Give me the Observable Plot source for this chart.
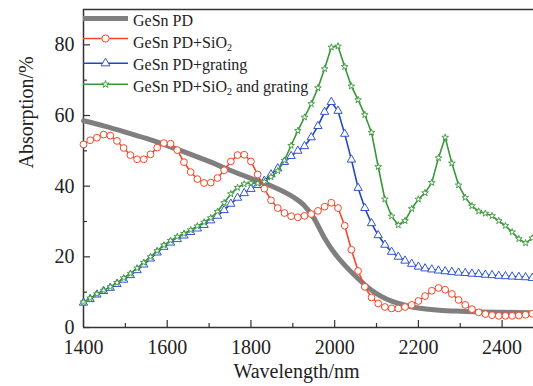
<!DOCTYPE html>
<html>
<head>
<meta charset="utf-8">
<script src="https://cdn.jsdelivr.net/npm/d3@7"></script>
<script src="https://cdn.jsdelivr.net/npm/@observablehq/plot@0.6"></script>
<style>
  html, body { margin: 0; padding: 0; background: #fff; }
  #wrap { position: relative; width: 533px; height: 386px; overflow: hidden; }
  #legend { position: absolute; left: 0; top: 0; pointer-events: none; }
</style>
</head>
<body>
<div id="wrap"><div id="chart"></div><svg id="legend" width="533" height="100"></svg></div>
<script>
// ---- data ----
const wl = [1400,1416,1432,1448,1464,1480,1496,1512,1528,1544,1560,1576,1592,1608,1624,1640,1656,1672,1688,1704,1720,1736,1752,1768,1784,1800,1816,1832,1848,1864,1880,1896,1912,1928,1944,1960,1976,1992,2008,2024,2040,2056,2072,2088,2104,2120,2136,2152,2168,2184,2200,2216,2232,2248,2264,2280,2296,2312,2328,2344,2360,2376,2392,2408,2424,2440,2456,2472];

const sio2 = [51.8,53.0,53.7,54.6,54.3,52.8,50.8,48.8,47.6,47.6,
              49.0,50.9,52.2,52.0,50.2,46.8,44.0,42.0,40.9,41.0,
              42.3,44.5,47.0,48.8,48.9,47.0,43.3,39.3,36.0,33.8,
              32.4,31.5,31.2,31.6,32.1,33.0,34.2,35.3,33.8,28.8,
              22.0,16.0,11.5,8.5,6.8,5.8,5.4,5.4,5.8,6.4,
              7.5,8.9,10.4,11.2,10.7,9.5,7.8,6.4,5.2,4.3,
              3.8,3.5,3.3,3.3,3.3,3.4,3.6,3.9];

const grating = [7.0,8.0,9.3,10.3,11.2,12.3,13.5,14.8,16.2,17.8,
                 19.5,21.2,22.8,24.0,25.0,26.0,27.0,28.0,29.0,30.3,
                 31.6,33.2,35.0,36.7,38.0,39.2,40.3,41.5,43.3,45.0,
                 46.8,48.5,50.0,51.3,53.8,57.0,61.0,63.8,61.3,54.8,
                 47.5,39.5,33.8,29.5,26.1,23.4,21.4,20.0,18.9,18.0,
                 17.2,16.7,16.4,16.1,15.9,15.7,15.5,15.4,15.2,15.1,
                 14.9,14.8,14.6,14.5,14.4,14.3,14.2,14.0];

const both = [7.2,8.3,9.5,10.5,11.5,12.7,14.0,15.3,16.8,18.4,
              20.0,21.7,23.3,24.6,25.7,26.6,27.6,28.7,29.8,31.0,
              32.8,35.3,37.8,39.6,40.6,40.9,40.8,41.2,42.6,44.3,
              47.3,51.5,55.7,59.5,63.3,67.8,73.2,79.3,79.6,73.8,
              68.3,64.4,60.2,55.2,45.5,36.3,31.5,29.0,30.2,33.6,
              36.3,38.1,41.0,48.0,53.8,46.5,40.3,36.8,34.4,32.9,
              32.3,31.6,30.2,28.8,27.0,25.1,23.9,25.3];

const grayWl = [1400,1450,1500,1550,1600,1650,1700,1750,1800,1850,1900,1925,1950,1975,2000,2025,2050,2075,2100,2125,2150,2175,2200,2250,2300,2350,2400,2475];
const gray   = [58.5,57.0,55.3,53.5,51.5,49.3,47.0,44.5,42.2,40.0,37.0,34.8,31.0,25.5,21.0,17.5,14.5,11.8,9.6,8.0,6.9,6.1,5.5,4.9,4.6,4.4,4.3,4.2];

const xMajor = [1400,1600,1800,2000,2200,2400];
const xMinor = [1500,1700,1900,2100,2300];
const yMajor = [0,20,40,60,80];
const yMinor = [10,30,50,70];

const seriesNames = ["GeSn PD", "GeSn PD+SiO", "GeSn PD+grating", "GeSn PD+SiO"];
const colors = { gray: "#7f7f7f", red: "#f2472a", blue: "#1f48bf", green: "#3b963b" };

// ---- build tables ----
const grayRows = grayWl.map((w, i) => ({w, v: gray[i]}));
const redRows = wl.map((w, i) => ({w, v: sio2[i]}));
const blueRows = wl.map((w, i) => ({w, v: grating[i]}));
const greenRows = wl.map((w, i) => ({w, v: both[i]}));

const font = "'Liberation Serif', 'Times New Roman', serif";
const axisColor = "#333";

const chart = Plot.plot({
  width: 533,
  height: 386,
  marginLeft: 83,
  marginRight: 0,
  marginTop: 9,
  marginBottom: 59,
  x: {domain: [1400, 2475], label: null},
  y: {domain: [0, 90], label: null},
  style: {fontFamily: font, fontSize: "20px", color: "#222", background: "#fff", overflow: "visible"},
  marks: [
    // frame lines
    Plot.ruleX([1400], {stroke: axisColor, strokeWidth: 1.5}),
    Plot.ruleY([0], {stroke: axisColor, strokeWidth: 1.5}),
    Plot.ruleY([90], {stroke: axisColor, strokeWidth: 1.5}),
    // inward ticks
    Plot.axisX({ticks: xMajor, tickSize: -7, tickFormat: () => "", stroke: axisColor, strokeWidth: 1.2}),
    Plot.axisX({ticks: xMinor, tickSize: -4, tickFormat: () => "", stroke: axisColor, strokeWidth: 1.2}),
    Plot.axisY({ticks: yMajor, tickSize: -7, tickFormat: () => "", stroke: axisColor, strokeWidth: 1.2}),
    Plot.axisY({ticks: yMinor, tickSize: -4, tickFormat: () => "", stroke: axisColor, strokeWidth: 1.2}),
    // tick labels
    Plot.axisX({ticks: xMajor, tickSize: 0, tickPadding: 12, fontSize: 20, tickFormat: d => String(d)}),
    Plot.axisY({ticks: yMajor, tickSize: 0, tickPadding: 9, fontSize: 20, tickFormat: d => String(d)}),
    // axis titles
    Plot.text(["Wavelength/nm"], {text: d => d, frameAnchor: "bottom", dy: 50, dx: -12, fontSize: 20, fill: "#222"}),
    Plot.text(["Absorption/%"], {text: d => d, frameAnchor: "left", rotate: -90, dx: -57, fontSize: 20, fill: "#222"}),
    // series
    Plot.line(grayRows, {x: "w", y: "v", stroke: colors.gray, strokeWidth: 5, curve: "monotone-x"}),
    Plot.line(blueRows, {x: "w", y: "v", stroke: colors.blue, strokeWidth: 1.6}),
    Plot.dot(blueRows, {x: "w", y: "v", symbol: "triangle", r: 3.1, stroke: "#3355d0", fill: "white", strokeWidth: 1}),
    Plot.line(greenRows, {x: "w", y: "v", stroke: colors.green, strokeWidth: 1.6}),
    Plot.dot(greenRows, {x: "w", y: "v", symbol: "star", r: 2.1, stroke: colors.green, fill: "white", strokeWidth: 0.9}),
    Plot.line(redRows, {x: "w", y: "v", stroke: colors.red, strokeWidth: 1.6}),
    Plot.dot(redRows, {x: "w", y: "v", symbol: "circle", r: 3.4, stroke: colors.red, fill: "white", strokeWidth: 1})
  ]
});
document.getElementById("chart").appendChild(chart);

// ---- legend (inside the plot, upper left) ----
const lg = d3.select("#legend");
const x1 = 83, x2 = 128, tx = 133;
const rows = [
  {lineY: 18.5, base: 26,   color: colors.gray,  width: 5,   sym: null,     label: seriesNames[0], sub: null, rest: ""},
  {lineY: 38.5, base: 47.5, color: colors.red,   width: 1.6, sym: "circle", label: seriesNames[1], sub: "2", rest: ""},
  {lineY: 63.3, base: 70,   color: colors.blue,  width: 1.6, sym: "triangle", label: seriesNames[2], sub: null, rest: ""},
  {lineY: 84.3, base: 91.5, color: colors.green, width: 1.6, sym: "star",   label: seriesNames[3], sub: "2", rest: " and grating"}
];
rows.forEach(r => {
  lg.append("line").attr("x1", x1).attr("x2", x2).attr("y1", r.lineY).attr("y2", r.lineY)
    .attr("stroke", r.color).attr("stroke-width", r.width);
  const cx = (x1 + x2) / 2;
  if (r.sym === "circle") {
    lg.append("circle").attr("cx", cx).attr("cy", r.lineY).attr("r", 3.6)
      .attr("fill", "white").attr("stroke", r.color).attr("stroke-width", 1);
  } else if (r.sym === "triangle") {
    lg.append("path").attr("d", d3.symbol(d3.symbolTriangle, Math.PI * 3.3 * 3.3)())
      .attr("transform", `translate(${cx},${r.lineY})`)
      .attr("fill", "white").attr("stroke", "#3355d0").attr("stroke-width", 1);
  } else if (r.sym === "star") {
    lg.append("path").attr("d", d3.symbol(d3.symbolStar, Math.PI * 2.3 * 2.3)())
      .attr("transform", `translate(${cx},${r.lineY})`)
      .attr("fill", "white").attr("stroke", r.color).attr("stroke-width", 0.9);
  }
  const t = lg.append("text").attr("x", tx).attr("y", r.base)
    .attr("font-family", font).attr("font-size", 16).attr("fill", "#222");
  t.append("tspan").text(r.label);
  if (r.sub) {
    t.append("tspan").attr("font-size", 10).attr("dy", 3).text(r.sub);
    if (r.rest) t.append("tspan").attr("dy", -3).text(r.rest);
  }
});
</script>
</body>
</html>
